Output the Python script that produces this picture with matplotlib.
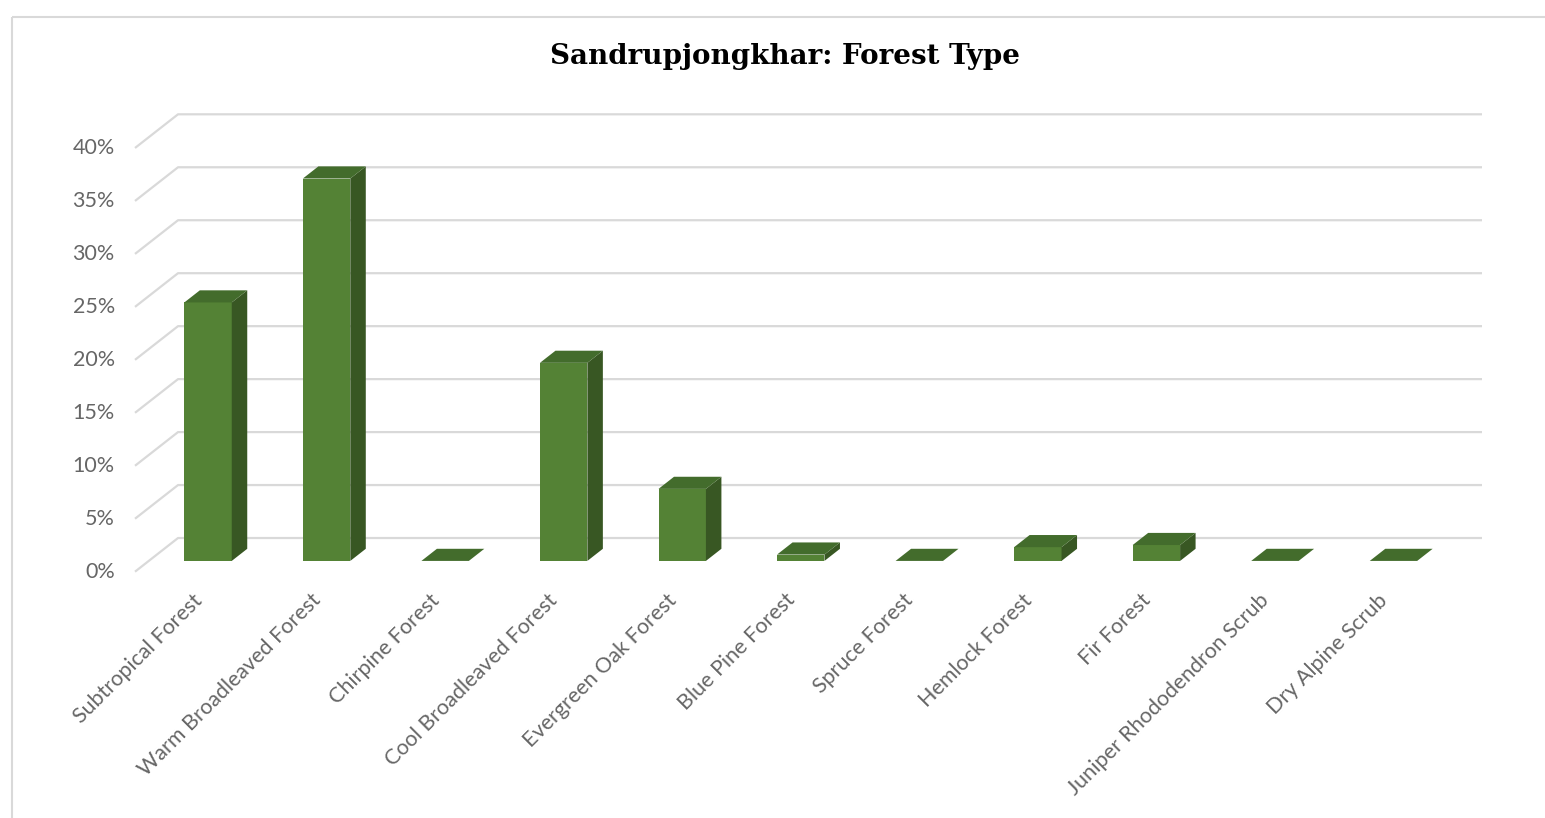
import matplotlib
matplotlib.use("Agg")
import matplotlib.pyplot as plt
from matplotlib.patches import Polygon, Rectangle
import numpy as np

# Forest type shares for Samdrup Jongkhar (percent of forest area)
categories = [
    "Subtropical Forest", "Warm Broadleaved Forest", "Chirpine Forest",
    "Cool Broadleaved Forest", "Evergreen Oak Forest", "Blue Pine Forest",
    "Spruce Forest", "Hemlock Forest", "Fir Forest",
    "Juniper Rhododendron Scrub", "Dry Alpine Scrub",
]
shares = [24.4, 36.1, 0.0, 18.7, 6.8, 0.6, 0.0, 1.3, 1.5, 0.0, 0.0]
y_ticks = [0, 5, 10, 15, 20, 25, 30, 35, 40]
y_tick_labels = [f"{t}%" for t in y_ticks]
title = "Sandrupjongkhar: Forest Type"

# oblique projection of the depth axis (depth 0 = front edge, 1 = back wall)
KX = 0.363   # category units per unit depth
KY = 3.18    # percent units per unit depth
BAR_W = 0.4
D0, D1 = 0.32, 0.68

FRONT = "#548235"
SIDE = "#385723"
TOP = "#436c2c"
GRID = "#d9d9d9"
TEXT = "#666666"

W, H = 1545, 818
fig = plt.figure(figsize=(W / 100, H / 100), dpi=100)

# chart frame
frame_ax = fig.add_axes([0, 0, 1, 1])
frame_ax.set_xlim(0, W)
frame_ax.set_ylim(H, 0)
frame_ax.axis("off")
frame_ax.add_patch(Rectangle((12, 17), W + 20, H + 20, fill=False,
                             edgecolor="#d9d9d9", linewidth=1.5))

# plot area
px_left, px_right = 135, 1482
px_bottom, px_top = 571.7, 114.3
ax = fig.add_axes([px_left / W, 1 - px_bottom / H,
                   (px_right - px_left) / W, (px_bottom - px_top) / H])
n = len(categories)
x0 = -0.5
x1 = n - 0.5
ax.set_xlim(x0, x1 + KX)
ax.set_ylim(0, max(y_ticks) + KY)
ax.axis("off")


def proj(x, y, d):
    return (x + KX * d, y + KY * d)


# side wall diagonals and back wall gridlines
for t, lab in zip(y_ticks, y_tick_labels):
    fx, fy = proj(x0, t, 0)
    bx, by = proj(x0, t, 1)
    ex, ey = proj(x1, t, 1)
    ax.plot([fx, bx, ex], [fy, by, ey], color=GRID, lw=1.6,
            solid_capstyle="butt", clip_on=False, zorder=1)
    ax.text(fx - 0.17, fy, lab, ha="right", va="center", fontsize=15.5,
            color=TEXT, family="Lato")

# columns: front faces via bar, side and top faces projected from the same values
xs = np.arange(n)
ax.bar(xs + KX * D0, shares, width=BAR_W, bottom=KY * D0, color=FRONT,
       linewidth=0, zorder=3)
for xi, v in zip(xs, shares):
    l, r = xi - BAR_W / 2, xi + BAR_W / 2
    side = [proj(r, 0, D0), proj(r, 0, D1), proj(r, v, D1), proj(r, v, D0)]
    top = [proj(l, v, D0), proj(r, v, D0), proj(r, v, D1), proj(l, v, D1)]
    ax.add_patch(Polygon(side, closed=True, facecolor=SIDE, edgecolor="none",
                         zorder=3))
    ax.add_patch(Polygon(top, closed=True, facecolor=TOP, edgecolor="none",
                         zorder=4))

# category labels
for xi, name in zip(xs, categories):
    ax.text(xi + 0.04, -2.4, name, rotation=45, rotation_mode="anchor",
            ha="right", va="center", fontsize=15.5, color=TEXT, family="Lato")

fig.text(785 / W, 1 - 57 / H, title, ha="center", va="center",
         fontsize=20, fontweight="bold", family="DejaVu Serif", color="#000000")

fig.savefig("out.png", dpi=100, facecolor="white")
